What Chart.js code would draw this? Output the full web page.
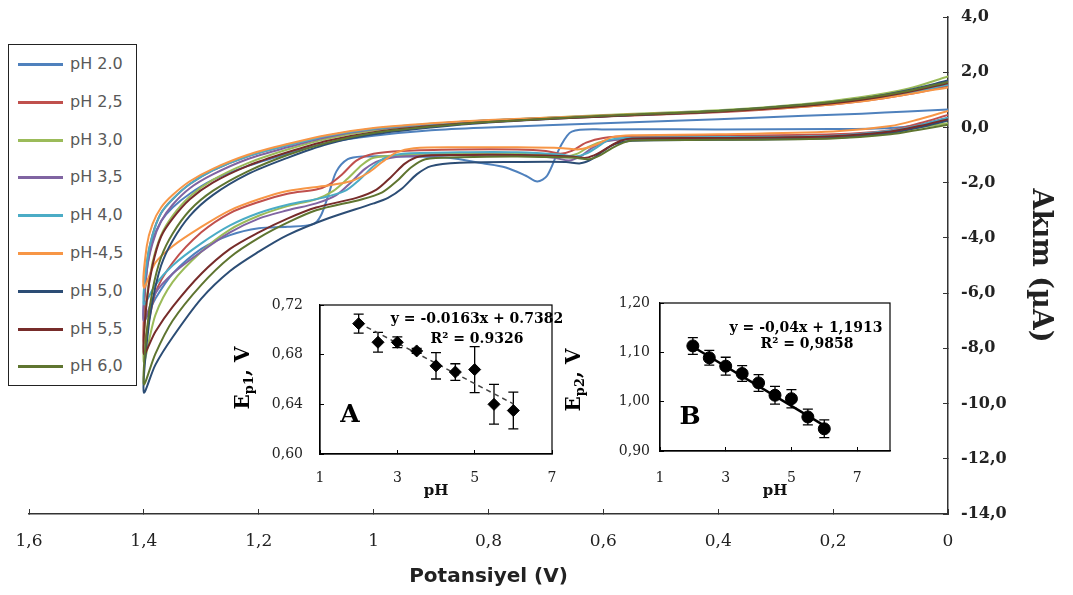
<!DOCTYPE html>
<html>
<head>
<meta charset="utf-8">
<title>Voltamogram - pH etkisi</title>
<script src="https://cdn.jsdelivr.net/npm/chart.js@4.4.1/dist/chart.umd.min.js"></script>
<style>
  html, body { margin: 0; padding: 0; background: #fff; }
  #wrap { position: relative; width: 1073px; height: 595px; overflow: hidden; }
  #wrap canvas { position: absolute; }
  #legend {
    position: absolute; left: 8px; top: 44px; width: 127px; height: 340px;
    border: 1px solid #222; background: #fff;
    font: 16px "DejaVu Sans", sans-serif; color: #595959;
  }
  #legend .item { position: absolute; left: 0; height: 20px; width: 127px; }
  #legend .line { position: absolute; left: 9px; top: 9px; width: 45px; height: 3px; }
  #legend .txt { position: absolute; left: 61px; top: 0; line-height: 20px; white-space: nowrap; }
</style>
</head>
<body>
<div id="wrap">
  <canvas id="cv" width="1073" height="595" style="left:0;top:0"></canvas>
  <canvas id="insetA" width="353" height="215" style="left:222px;top:285px"></canvas>
  <canvas id="insetB" width="355" height="217" style="left:555px;top:283px"></canvas>
  <div id="legend"></div>
</div>
<script>
// ---- voltammograms: [potential V, current uA], forward scan then reverse scan
var PH_LABELS = ['pH 2.0', 'pH 2,5', 'pH 3,0', 'pH 3,5', 'pH 4,0', 'pH-4,5', 'pH 5,0', 'pH 5,5', 'pH 6,0'];
var LINE_COLORS = ['#4F81BD', '#C0504D', '#9BBB59', '#8064A2', '#4BACC6', '#F79646', '#2C4D75', '#772C2A', '#5F7530'];

var cv20 = [
  [0, 0.35], [0.05, 0.1], [0.1, -0.02], [0.2, -0.06], [0.4, -0.07], [0.6, -0.07], [0.655, -0.15], [0.675, -0.7],
  [0.698, -1.75], [0.715, -1.96], [0.735, -1.75], [0.77, -1.45], [0.81, -1.3], [0.87, -1.1], [0.95, -1.05], [1.02, -1.05],
  [1.045, -1.15], [1.065, -1.6], [1.078, -2.4], [1.092, -3.2], [1.105, -3.5], [1.15, -3.6], [1.2, -3.65], [1.25, -3.9],
  [1.3, -4.4], [1.35, -5.3], [1.38, -6.2], [1.4, -7.0],
  [1.395, -5.2], [1.385, -4.1], [1.37, -3.4], [1.35, -2.9], [1.32, -2.4], [1.28, -1.9], [1.22, -1.4], [1.15, -0.95],
  [1.08, -0.55], [1.0, -0.3], [0.9, -0.1], [0.8, 0.0], [0.6, 0.15], [0.4, 0.3], [0.25, 0.42], [0.15, 0.5], [0.07, 0.58], [0, 0.65]
];
var cv25 = [
  [0, 0.45], [0.05, 0.15], [0.1, -0.1], [0.2, -0.25], [0.4, -0.3], [0.55, -0.32], [0.6, -0.38], [0.63, -0.55],
  [0.655, -0.85], [0.675, -0.95], [0.7, -0.85], [0.75, -0.8], [0.85, -0.8], [0.95, -0.85], [1.0, -0.95], [1.03, -1.2],
  [1.055, -1.7], [1.08, -2.1], [1.1, -2.25], [1.15, -2.4], [1.2, -2.7], [1.25, -3.1], [1.3, -3.8], [1.35, -4.9],
  [1.38, -6.0], [1.4, -7.8],
  [1.395, -5.0], [1.385, -3.9], [1.37, -3.1], [1.35, -2.6], [1.32, -2.05], [1.28, -1.55], [1.22, -1.05], [1.15, -0.65],
  [1.08, -0.3], [1.0, -0.05], [0.9, 0.12], [0.8, 0.25], [0.6, 0.4], [0.4, 0.55], [0.25, 0.75], [0.15, 0.95], [0.07, 1.2], [0, 1.5]
];
var cv30 = [
  [0, 0.15], [0.05, 0.0], [0.1, -0.2], [0.2, -0.35], [0.4, -0.4], [0.55, -0.42], [0.6, -0.5], [0.625, -0.7],
  [0.645, -0.95], [0.665, -1.05], [0.69, -1.0], [0.75, -0.95], [0.85, -0.95], [0.95, -1.0], [1.0, -1.1], [1.02, -1.35],
  [1.045, -1.85], [1.07, -2.3], [1.1, -2.6], [1.15, -2.85], [1.2, -3.2], [1.25, -3.7], [1.3, -4.5], [1.35, -5.6],
  [1.38, -6.8], [1.4, -8.5],
  [1.395, -6.2], [1.385, -4.9], [1.37, -3.9], [1.35, -3.2], [1.32, -2.5], [1.28, -1.9], [1.22, -1.3], [1.15, -0.8],
  [1.08, -0.4], [1.0, -0.1], [0.9, 0.1], [0.8, 0.25], [0.6, 0.45], [0.4, 0.62], [0.25, 0.85], [0.15, 1.1], [0.07, 1.4], [0, 1.85]
];
var cv35 = [
  [0, 0.3], [0.05, 0.05], [0.1, -0.15], [0.2, -0.35], [0.4, -0.4], [0.55, -0.42], [0.595, -0.5], [0.62, -0.75],
  [0.64, -1.05], [0.66, -1.2], [0.685, -1.1], [0.75, -1.0], [0.85, -1.0], [0.95, -1.05], [0.99, -1.2], [1.015, -1.5],
  [1.04, -2.0], [1.065, -2.45], [1.1, -2.75], [1.15, -3.0], [1.2, -3.3], [1.25, -3.8], [1.3, -4.5], [1.35, -5.3],
  [1.38, -6.0], [1.4, -7.0],
  [1.395, -5.2], [1.385, -4.2], [1.37, -3.4], [1.35, -2.8], [1.32, -2.2], [1.28, -1.7], [1.22, -1.15], [1.15, -0.72],
  [1.08, -0.35], [1.0, -0.07], [0.9, 0.12], [0.8, 0.25], [0.6, 0.42], [0.4, 0.58], [0.25, 0.8], [0.15, 1.0], [0.07, 1.3], [0, 1.65]
];
var cv40 = [
  [0, 0.35], [0.05, 0.08], [0.1, -0.12], [0.2, -0.3], [0.4, -0.35], [0.55, -0.37], [0.59, -0.45], [0.61, -0.7],
  [0.63, -0.95], [0.65, -1.05], [0.675, -0.98], [0.75, -0.9], [0.85, -0.9], [0.95, -0.95], [0.98, -1.1], [1.0, -1.4],
  [1.025, -1.9], [1.05, -2.3], [1.09, -2.55], [1.15, -2.8], [1.2, -3.1], [1.25, -3.55], [1.3, -4.2], [1.35, -5.0],
  [1.38, -5.7], [1.4, -6.4],
  [1.395, -4.9], [1.385, -3.9], [1.37, -3.1], [1.35, -2.6], [1.32, -2.05], [1.28, -1.55], [1.22, -1.05], [1.15, -0.65],
  [1.08, -0.3], [1.0, -0.05], [0.9, 0.13], [0.8, 0.26], [0.6, 0.42], [0.4, 0.58], [0.25, 0.78], [0.15, 1.0], [0.07, 1.25], [0, 1.55]
];
var cv45 = [
  [0, 0.6], [0.05, 0.3], [0.1, 0.05], [0.2, -0.15], [0.4, -0.25], [0.55, -0.28], [0.585, -0.35], [0.605, -0.55],
  [0.625, -0.72], [0.645, -0.8], [0.67, -0.75], [0.75, -0.72], [0.85, -0.72], [0.93, -0.75], [0.96, -0.9], [0.985, -1.25],
  [1.01, -1.65], [1.04, -1.95], [1.08, -2.1], [1.15, -2.3], [1.2, -2.6], [1.25, -3.0], [1.3, -3.6], [1.35, -4.3],
  [1.38, -4.9], [1.4, -5.8],
  [1.395, -4.3], [1.385, -3.5], [1.37, -2.9], [1.35, -2.45], [1.32, -1.95], [1.28, -1.5], [1.22, -1.0], [1.15, -0.6],
  [1.08, -0.27], [1.0, -0.02], [0.9, 0.15], [0.8, 0.27], [0.6, 0.43], [0.4, 0.58], [0.25, 0.75], [0.15, 0.95], [0.07, 1.2], [0, 1.45]
];
var cv50 = [
  [0, 0.25], [0.05, 0.0], [0.1, -0.2], [0.2, -0.38], [0.4, -0.45], [0.55, -0.48], [0.58, -0.6], [0.6, -0.85],
  [0.62, -1.15], [0.64, -1.3], [0.665, -1.25], [0.75, -1.25], [0.85, -1.28], [0.9, -1.4], [0.925, -1.7], [0.95, -2.2],
  [0.975, -2.55], [1.0, -2.75], [1.08, -3.3], [1.15, -3.9], [1.2, -4.5], [1.25, -5.2], [1.3, -6.2], [1.35, -7.6],
  [1.38, -8.6], [1.4, -9.6],
  [1.395, -7.8], [1.385, -6.3], [1.37, -5.0], [1.35, -4.1], [1.32, -3.2], [1.28, -2.45], [1.22, -1.7], [1.15, -1.1],
  [1.08, -0.6], [1.0, -0.25], [0.9, 0.0], [0.8, 0.18], [0.6, 0.4], [0.4, 0.6], [0.25, 0.82], [0.15, 1.05], [0.07, 1.35], [0, 1.7]
];
var cv55 = [
  [0, 0.3], [0.05, 0.05], [0.1, -0.15], [0.2, -0.32], [0.4, -0.38], [0.55, -0.4], [0.57, -0.48], [0.59, -0.7],
  [0.61, -0.95], [0.63, -1.1], [0.655, -1.05], [0.75, -1.0], [0.85, -1.0], [0.92, -1.05], [0.945, -1.3], [0.97, -1.8],
  [0.995, -2.25], [1.03, -2.55], [1.1, -2.9], [1.15, -3.3], [1.2, -3.8], [1.25, -4.4], [1.3, -5.3], [1.35, -6.5],
  [1.38, -7.4], [1.4, -8.2],
  [1.395, -6.3], [1.385, -5.0], [1.37, -3.95], [1.35, -3.3], [1.32, -2.6], [1.28, -2.0], [1.22, -1.4], [1.15, -0.9],
  [1.08, -0.48], [1.0, -0.17], [0.9, 0.05], [0.8, 0.2], [0.6, 0.4], [0.4, 0.57], [0.25, 0.78], [0.15, 1.0], [0.07, 1.28], [0, 1.6]
];
var cv60 = [
  [0, 0.1], [0.05, -0.08], [0.1, -0.25], [0.2, -0.4], [0.4, -0.45], [0.55, -0.47], [0.565, -0.55], [0.585, -0.75],
  [0.605, -1.0], [0.625, -1.15], [0.65, -1.1], [0.75, -1.05], [0.85, -1.08], [0.91, -1.15], [0.935, -1.45], [0.96, -1.95],
  [0.985, -2.35], [1.02, -2.6], [1.1, -3.0], [1.15, -3.45], [1.2, -4.0], [1.25, -4.7], [1.3, -5.7], [1.35, -7.0],
  [1.38, -8.2], [1.4, -9.3],
  [1.395, -7.4], [1.385, -5.9], [1.37, -4.7], [1.35, -3.85], [1.32, -3.0], [1.28, -2.3], [1.22, -1.6], [1.15, -1.0],
  [1.08, -0.55], [1.0, -0.2], [0.9, 0.03], [0.8, 0.2], [0.6, 0.42], [0.4, 0.6], [0.25, 0.82], [0.15, 1.05], [0.07, 1.32], [0, 1.65]
];
var CURVES = [cv20, cv25, cv30, cv35, cv40, cv45, cv50, cv55, cv60];

// ---- inset A: first peak potential vs pH
var PH_VALUES = [2, 2.5, 3, 3.5, 4, 4.5, 5, 5.5, 6];
var EP1 = [0.705, 0.690, 0.690, 0.683, 0.671, 0.666, 0.668, 0.640, 0.635];
var EP1_ERR = [0.0077, 0.008, 0.0044, 0.002, 0.0106, 0.0067, 0.0185, 0.016, 0.0148];
var FIT_A = { slope: -0.0163, intercept: 0.7382 };

// ---- inset B: second peak potential vs pH
var EP2 = [1.113, 1.089, 1.072, 1.057, 1.038, 1.013, 1.006, 0.969, 0.945];
var EP2_ERR = [0.017, 0.015, 0.018, 0.016, 0.017, 0.018, 0.0185, 0.016, 0.018];
var FIT_B = { slope: -0.04, intercept: 1.1913 };

var PH_TICKS = [1, 3, 5, 7];
var X_TICKS = { min: 0, max: 1.6, step: 0.2 };
var Y_TICKS = { min: -14, max: 4, step: 2 };

var SERIF = '"DejaVu Serif", "Liberation Serif", serif';
var SANS = '"DejaVu Sans", "Liberation Sans", sans-serif';

function comma(v, digits) {
  return v.toFixed(digits).replace('.', ',');
}

// tick padding should not push the plot area around; sizes are fixed here
function fixVertical(width) {
  return function(s) {
    s.width = width;
    s.paddingTop = 8;
    s.paddingBottom = 8;
  };
}
function fixHorizontal(height) {
  return function(s) {
    s.height = height;
    s.paddingLeft = 8;
    s.paddingRight = 8;
  };
}

// legend box on the left
(function buildLegend() {
  var box = document.getElementById('legend');
  PH_LABELS.forEach(function(label, i) {
    var item = document.createElement('div');
    item.className = 'item';
    item.style.top = (9 + i * 37.8) + 'px';
    item.innerHTML = '<span class="line" style="background:' + LINE_COLORS[i] + '"></span><span class="txt">' + label + '</span>';
    box.appendChild(item);
  });
})();

// ---- main voltammogram chart
new Chart(document.getElementById('cv'), {
  type: 'scatter',
  data: {
    datasets: CURVES.map(function(curve, i) {
      return {
        label: PH_LABELS[i],
        data: curve.map(function(p) { return { x: p[0], y: p[1] }; }),
        showLine: true,
        borderColor: LINE_COLORS[i],
        backgroundColor: LINE_COLORS[i],
        borderWidth: 2,
        pointRadius: 0,
        tension: 0.3,
        order: CURVES.length - i
      };
    })
  },
  options: {
    responsive: false,
    animation: false,
    devicePixelRatio: 1,
    layout: { padding: { left: 29, top: 17, right: 0, bottom: 0 } },
    plugins: { legend: { display: false }, tooltip: { enabled: false } },
    scales: {
      x: {
        type: 'linear',
        reverse: true,
        min: X_TICKS.min,
        max: X_TICKS.max,
        afterFit: fixHorizontal(81),
        border: { display: true, color: '#333', width: 1.5 },
        grid: { drawOnChartArea: false, drawTicks: true, tickLength: -5, color: '#333' },
        ticks: {
          stepSize: X_TICKS.step,
          padding: 22,
          color: '#222',
          font: { family: SERIF, size: 17 },
          callback: function(v) { return String(Math.round(v * 10) / 10).replace('.', ','); }
        },
        title: {
          display: true,
          text: 'Potansiyel (V)',
          color: '#222',
          font: { family: SANS, size: 20, weight: 'bold' },
          padding: { top: 0, bottom: 6 }
        }
      },
      y: {
        position: 'right',
        min: Y_TICKS.min,
        max: Y_TICKS.max,
        afterFit: fixVertical(125),
        border: { display: true, color: '#333', width: 1.5 },
        grid: { drawOnChartArea: false, drawTicks: true, tickLength: -5, color: '#333' },
        ticks: {
          stepSize: Y_TICKS.step,
          padding: 18,
          color: '#222',
          font: { family: SERIF, size: 16, weight: 'bold' },
          callback: function(v) { return comma(v, 1); }
        },
        title: {
          display: true,
          text: 'Akım (µA)',
          color: '#222',
          font: { family: SERIF, size: 27, weight: 'bold' },
          padding: { top: 17, bottom: 0 }
        }
      }
    }
  }
});

// ---- inset helpers
var errorBars = {
  id: 'errorBars',
  beforeDatasetsDraw: function(chart) {
    var ds = chart.data.datasets[0];
    if (!ds.errors) return;
    var ctx = chart.ctx, xs = chart.scales.x, ys = chart.scales.y;
    ctx.save();
    ctx.strokeStyle = '#000';
    ctx.lineWidth = 1.3;
    ds.data.forEach(function(p, i) {
      var px = xs.getPixelForValue(p.x);
      var top = ys.getPixelForValue(p.y + ds.errors[i]);
      var bot = ys.getPixelForValue(p.y - ds.errors[i]);
      ctx.beginPath();
      ctx.moveTo(px, top); ctx.lineTo(px, bot);
      ctx.moveTo(px - 5, top); ctx.lineTo(px + 5, top);
      ctx.moveTo(px - 5, bot); ctx.lineTo(px + 5, bot);
      ctx.stroke();
    });
    ctx.restore();
  }
};

var insetText = {
  id: 'insetText',
  afterDraw: function(chart, args, opt) {
    var ctx = chart.ctx, a = chart.chartArea;
    ctx.save();
    // frame around the plot area
    ctx.strokeStyle = '#000';
    ctx.lineWidth = 1.2;
    ctx.strokeRect(a.left, a.top, a.right - a.left, a.bottom - a.top);

    ctx.fillStyle = '#000';
    ctx.textAlign = 'center';
    ctx.textBaseline = 'middle';
    ctx.font = 'bold 25px ' + SERIF;
    ctx.fillText(opt.letter, a.left + opt.letterPos[0], a.top + opt.letterPos[1]);

    ctx.font = 'bold 14px ' + SERIF;
    ctx.fillText(opt.equation, a.left + opt.eqPos[0], a.top + opt.eqPos[1]);
    ctx.fillText(opt.r2, a.left + opt.r2Pos[0], a.top + opt.r2Pos[1]);

    // rotated y title with subscript, E_p1, V
    var big = 'bold 20px ' + SERIF, small = 'bold 13px ' + SERIF;
    ctx.font = big;
    var wE = ctx.measureText('E').width, wT = ctx.measureText(', V').width;
    ctx.font = small;
    var wS = ctx.measureText(opt.sub).width;
    ctx.translate(a.left + opt.titlePos[0], a.top + opt.titlePos[1]);
    ctx.rotate(-Math.PI / 2);
    ctx.textAlign = 'left';
    ctx.textBaseline = 'alphabetic';
    var x = -(wE + wS + wT) / 2;
    ctx.font = big;
    ctx.fillText('E', x, 7);
    ctx.font = small;
    ctx.fillText(opt.sub, x + wE, 11);
    ctx.font = big;
    ctx.fillText(', V', x + wE + wS, 7);
    ctx.restore();
  }
};

function insetChart(id, cfg) {
  var first = PH_VALUES[0], last = PH_VALUES[PH_VALUES.length - 1];
  return new Chart(document.getElementById(id), {
    type: 'scatter',
    plugins: [errorBars, insetText],
    data: {
      datasets: [{
        data: PH_VALUES.map(function(x, i) { return { x: x, y: cfg.values[i] }; }),
        errors: cfg.errors,
        pointStyle: cfg.marker,
        pointRadius: 6,
        backgroundColor: '#000',
        borderColor: '#000',
        borderWidth: 1
      }, {
        data: [first, last].map(function(x) { return { x: x, y: cfg.fit.slope * x + cfg.fit.intercept }; }),
        showLine: true,
        pointRadius: 0,
        borderColor: cfg.fitColor,
        borderWidth: cfg.fitWidth,
        borderDash: cfg.fitDash
      }]
    },
    options: {
      responsive: false,
      animation: false,
      devicePixelRatio: 1,
      layout: { padding: { left: 0, top: 20, right: cfg.padRight, bottom: 0 } },
      plugins: {
        legend: { display: false },
        tooltip: { enabled: false },
        insetText: cfg.text
      },
      scales: {
        x: {
          type: 'linear',
          min: 1,
          max: cfg.xMax,
          afterFit: fixHorizontal(cfg.xHeight),
          afterBuildTicks: function(s) {
            s.ticks = PH_TICKS.map(function(v) { return { value: v }; });
          },
          border: { display: true, color: '#000', width: 1.2 },
          grid: { drawOnChartArea: false, drawTicks: true, tickLength: -4, color: '#000' },
          ticks: {
            padding: cfg.xPad,
            color: '#222',
            font: { family: SERIF, size: 14 }
          },
          title: {
            display: true,
            text: 'pH',
            color: '#111',
            font: { family: SERIF, size: 15, weight: 'bold' },
            padding: { top: 0, bottom: 0 }
          }
        },
        y: {
          min: cfg.yMin,
          max: cfg.yMax,
          afterFit: fixVertical(cfg.yWidth),
          border: { display: true, color: '#000', width: 1.2 },
          grid: { drawOnChartArea: false, drawTicks: true, tickLength: -4, color: '#000' },
          ticks: {
            stepSize: cfg.yStep,
            padding: cfg.yPad,
            color: '#222',
            font: { family: SERIF, size: 14 },
            callback: function(v) { return comma(v, 2); }
          }
        }
      }
    }
  });
}

insetChart('insetA', {
  values: EP1, errors: EP1_ERR, fit: FIT_A, marker: 'rectRot',
  fitColor: '#444', fitWidth: 1.5, fitDash: [5, 4],
  xMax: 7, yMin: 0.6, yMax: 0.72, yStep: 0.04,
  yWidth: 98, xHeight: 46, padRight: 23, yPad: 21, xPad: 20,
  text: {
    letter: 'A', letterPos: [30, 110],
    equation: 'y = -0.0163x + 0.7382', eqPos: [157, 14],
    r2: 'R² = 0.9326', r2Pos: [157, 34],
    sub: 'p1', titlePos: [-78, 73]
  }
});

insetChart('insetB', {
  values: EP2, errors: EP2_ERR, fit: FIT_B, marker: 'circle',
  fitColor: '#000', fitWidth: 2.5, fitDash: [],
  xMax: 8, yMin: 0.9, yMax: 1.2, yStep: 0.1,
  yWidth: 105, xHeight: 49, padRight: 20, yPad: 14, xPad: 23,
  text: {
    letter: 'B', letterPos: [30, 114],
    equation: 'y = -0,04x + 1,1913', eqPos: [146, 25],
    r2: 'R² = 0,9858', r2Pos: [147, 41],
    sub: 'p2', titlePos: [-87, 77]
  }
});
</script>
</body>
</html>
